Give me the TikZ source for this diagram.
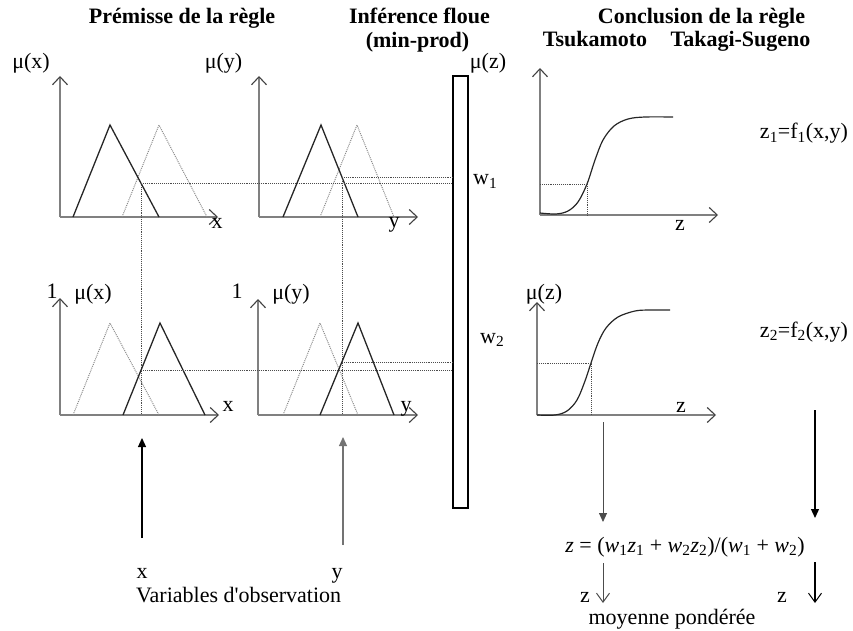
\documentclass[tikz,border=0pt]{standalone}
\usepackage{fontspec}
\setmainfont{Liberation Serif}
\usetikzlibrary{arrows.meta}
\newcommand{\mi}{\itshape}
\begin{document}
\begin{tikzpicture}[x=1pt,y=-1pt,
  every node/.style={inner sep=0pt, anchor=base, font=\fontsize{22}{26}\selectfont},
  ttl/.style={font=\fontsize{22}{26}\selectfont\bfseries},
  axisline/.style={draw=black!50, line width=1.1pt, -{Straight Barb[length=8pt,width=15pt,line width=1.1pt,color=black!75]}},
  fuzzy/.style={draw=black!85, line width=1.3pt},
  fuzzydot/.style={draw=black!45, line width=1pt, densely dotted},
  helper/.style={draw=black!70, line width=0.9pt, densely dotted},
  bigarrow/.style={line width=1.2pt, -{Triangle[length=9pt,width=8pt]}},
  smallarrow/.style={line width=1pt, -{Straight Barb[length=9pt,width=13pt,line width=1pt]}},
  sigm/.style={draw=black!85, line width=1.2pt}
]
\useasboundingbox (0,0) rectangle (853,631);

% titles
\node[ttl] (t1) at (182,24) {Prémisse de la règle};
\node[ttl] (t2) at (419.5,24) {Inférence floue};
\node[ttl] (t2b) at (417.5,48) {(min-prod)};
\node[ttl] (t3) at (701.5,24) {Conclusion de la règle};
\node[ttl] (t3a) at (595,47) {Tsukamoto};
\node[ttl] (t3b) at (740.5,47) {Takagi-Sugeno};

% rectangle
\node[draw, line width=1.2pt, minimum width=15pt, minimum height=432pt, anchor=center] (box) at (460.5,292) {};

% ---------- top row ----------
\node (mux1) at (31,69) {μ(x)};
\node (muy1) at (223.5,69) {μ(y)};
\node (muz1) at (488,69) {μ(z)};
\draw[axisline] (60,217) -- (60,76);
\draw[axisline] (60,217) -- (218,217);
\draw[axisline] (259,217) -- (259,76);
\draw[axisline] (259,217) -- (418,217);
\draw[axisline] (540,215) -- (540,68);
\draw[axisline] (540,215) -- (718,215);
\node (xl1) at (217,228) {x};
\node (yl1) at (394,227) {y};
\node (zl1) at (680,230) {z};

\draw[fuzzydot] (122,217) -- (159,125) -- (207,217);
\draw[fuzzy] (73,217) -- (110,125) -- (159,217);
\draw[fuzzydot] (320,217) -- (357,125) -- (394,217);
\draw[fuzzy] (283,217) -- (321,125) -- (358,217);

\draw[helper] (141,183) -- (141,183 -| box.west);
\draw[helper] (342,177) -- (342,177 -| box.west);
\draw[helper] (141,183) -- (141,415);
\draw[helper] (342,177) -- (342,415);
\node[anchor=base west] (w1) at (473,185) {w\textsubscript{1}};

\draw[sigm] plot[smooth, tension=0.55] coordinates {(540,213) (556,214) (568,211) (578,202) (587,184) (595,160) (603,140) (614,126) (628,119) (645,117) (673,117)};
\draw[helper] (540,184) -- (587,184) -- (587,215);
\node (z1) at (804,139) {z\textsubscript{1}=f\textsubscript{1}(x,y)};

% ---------- bottom row ----------
\node (one1) at (52,298) {1};
\node (mux2) at (93,299) {μ(x)};
\node (one2) at (237,298) {1};
\node (muy2) at (291,299) {μ(y)};
\node (muz2) at (544,299) {μ(z)};
\draw[axisline] (60,415) -- (60,298);
\draw[axisline] (60,415) -- (219,415);
\draw[axisline] (258,415) -- (258,299);
\draw[axisline] (258,415) -- (418,415);
\draw[axisline] (537,415) -- (537,302);
\draw[axisline] (537,415) -- (716,415);
\node (xl2) at (228,411) {x};
\node (yl2) at (406,411) {y};
\node (zl2) at (681,412) {z};

\draw[fuzzydot] (73,415) -- (110,323) -- (159,415);
\draw[fuzzy] (123,415) -- (160,323) -- (205,415);
\draw[fuzzydot] (283,415) -- (320,323) -- (358,415);
\draw[fuzzy] (320,415) -- (358,323) -- (394,415);

\draw[helper] (141,370) -- (141,370 -| box.west);
\draw[helper] (342,362) -- (342,362 -| box.west);
\node[anchor=base west] (w2) at (480,343) {w\textsubscript{2}};

\draw[sigm] plot[smooth, tension=0.55] coordinates {(537,415) (555,415) (567,411) (577,400) (585,381) (591,363) (598,343) (606,328) (618,317) (635,311) (650,310) (670,310)};
\draw[helper] (537,363) -- (591,363) -- (591,415);
\node (z2) at (804,337) {z\textsubscript{2}=f\textsubscript{2}(x,y)};

% ---------- inputs ----------
\node (xin) at (142,578) {x};
\node (yin) at (337,578) {y};
\node[anchor=base west] (obs) at (136,602) {Variables d\textquotesingle observation};
\coordinate (xa) at (142,538);
\coordinate (xb) at (142,438);
\coordinate (ya) at (343,545);
\coordinate (yb) at (343,437);
\draw[bigarrow] (xa) -- (xb);
\draw[bigarrow, draw=black!55, fill=black!75] (ya) -- (yb);

% ---------- output ----------
\node (form) at (685,552) {{\mi z} = ({\mi w}\textsubscript{1}{\mi z}\textsubscript{1} + {\mi w}\textsubscript{2}{\mi z}\textsubscript{2})/({\mi w}\textsubscript{1} + {\mi w}\textsubscript{2})};
\coordinate (ta) at (603,422);
\coordinate (tb) at (603,522);
\coordinate (sa) at (815,410);
\coordinate (sb) at (815,518);
\draw[bigarrow, line width=0.9pt, draw=black!70] (ta) -- (tb);
\draw[bigarrow, line width=1.3pt] (sa) -- (sb);
\coordinate (tc) at (603,563);
\coordinate (td) at (603,603);
\coordinate (sc) at (815,562);
\coordinate (sd) at (815,603);
\draw[smallarrow, draw=black!70] (tc) -- (td);
\draw[smallarrow, line width=1.3pt] (sc) -- (sd);
\node (zo1) at (585,602) {z};
\node (zo2) at (782,602) {z};
\node (moy) at (672,624) {moyenne pondérée};
\end{tikzpicture}
\end{document}
